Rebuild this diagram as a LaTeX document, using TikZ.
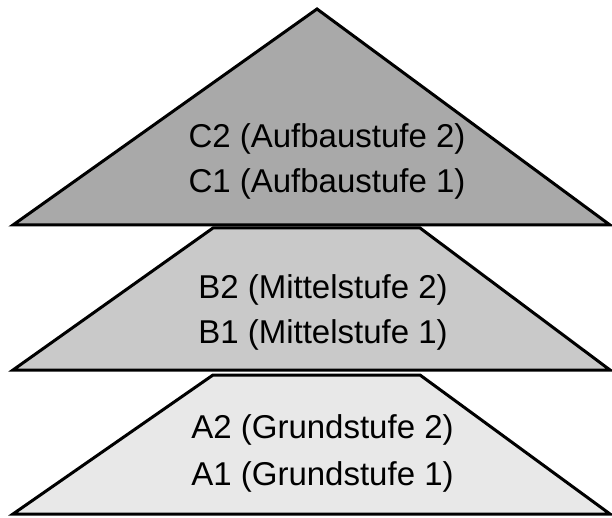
\documentclass[tikz,border=0pt]{standalone}
\usepackage{fontspec}
\setmainfont{Liberation Sans}
\definecolor{topgray}{HTML}{A9A9A9}
\definecolor{midgray}{HTML}{C9C9C9}
\definecolor{lowgray}{HTML}{E8E8E8}
\begin{document}
\begin{tikzpicture}[x=1pt,y=-1pt,
  tier/.style={draw=black,line width=3pt,line join=miter},
  lbl/.style={anchor=base,inner sep=0pt,font=\fontsize{33}{40}\selectfont}]
\useasboundingbox (0,0) rectangle (612,518);
% bottom tier
\draw[tier,fill=lowgray] (213,375) -- (420,375) -- (610,514) -- (13,514) -- cycle;
% middle tier
\draw[tier,fill=midgray] (213,228) -- (420,228) -- (610,370) -- (13,370) -- cycle;
% top tier
\draw[tier,fill=topgray] (317,9) -- (610,225) -- (13,225) -- cycle;
\node[lbl] (c2) at (327,148) {C2 (Aufbaustufe 2)};
\node[lbl] (c1) at (327,193) {C1 (Aufbaustufe 1)};
\node[lbl] (b2) at (323,298) {B2 (Mittelstufe 2)};
\node[lbl] (b1) at (323,343) {B1 (Mittelstufe 1)};
\node[lbl] (a2) at (322.5,438) {A2 (Grundstufe 2)};
\node[lbl] (a1) at (322.5,485) {A1 (Grundstufe 1)};
\end{tikzpicture}
\end{document}
